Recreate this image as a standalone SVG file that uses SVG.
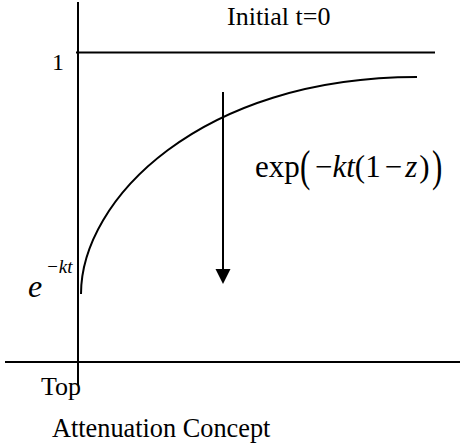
<svg xmlns="http://www.w3.org/2000/svg" width="460" height="448" viewBox="0 0 460 448">
<style>
.ln{stroke:#000;stroke-width:2;fill:none}
.t{font-family:"Liberation Serif","Times New Roman",serif;fill:#000}
.i{font-style:italic}
</style>
<rect width="460" height="448" fill="#fff"/>
<g id="connectors">
<line id="y-axis" class="ln" x1="78" y1="2" x2="78" y2="385"/>
<line id="line-1" class="ln" x1="76" y1="52.5" x2="435" y2="52.5"/>
<line id="bottom-line" class="ln" x1="5" y1="362" x2="460" y2="362"/>
<path id="curve" class="ln" d="M81,294 C81,200 200,77 417,77"/>
<line id="arrow-shaft" class="ln" x1="223" y1="92" x2="223" y2="271"/>
<polygon id="arrow-head" points="215.5,269 230.5,269 223,284" fill="#000"/>
</g>
<g id="label-initial"><text class="t" x="227" y="25" font-size="26">Initial t=0</text></g>
<g id="label-one"><text class="t" x="52" y="70" font-size="24">1</text></g>
<g id="label-ekt"><text class="t i" x="28" y="297" font-size="32">e</text><text class="t i" x="46" y="273" font-size="19">−kt</text></g>
<g id="label-formula">
<text class="t" x="255" y="177" font-size="31">exp</text>
<text class="t" transform="translate(300,181) scale(1,1.45)" font-size="31">(</text>
<text class="t" x="315" y="177" font-size="31">−<tspan class="i">kt</tspan>(1<tspan dx="4">−</tspan><tspan dx="3" class="i">z</tspan><tspan dx="2">)</tspan></text>
<text class="t" transform="translate(432,181) scale(1,1.45)" font-size="31">)</text>
</g>
<g id="label-top"><text class="t" x="41" y="395" font-size="26">Top</text></g>
<g id="label-caption"><text class="t" x="52" y="437" font-size="26.3">Attenuation Concept</text></g>
</svg>
